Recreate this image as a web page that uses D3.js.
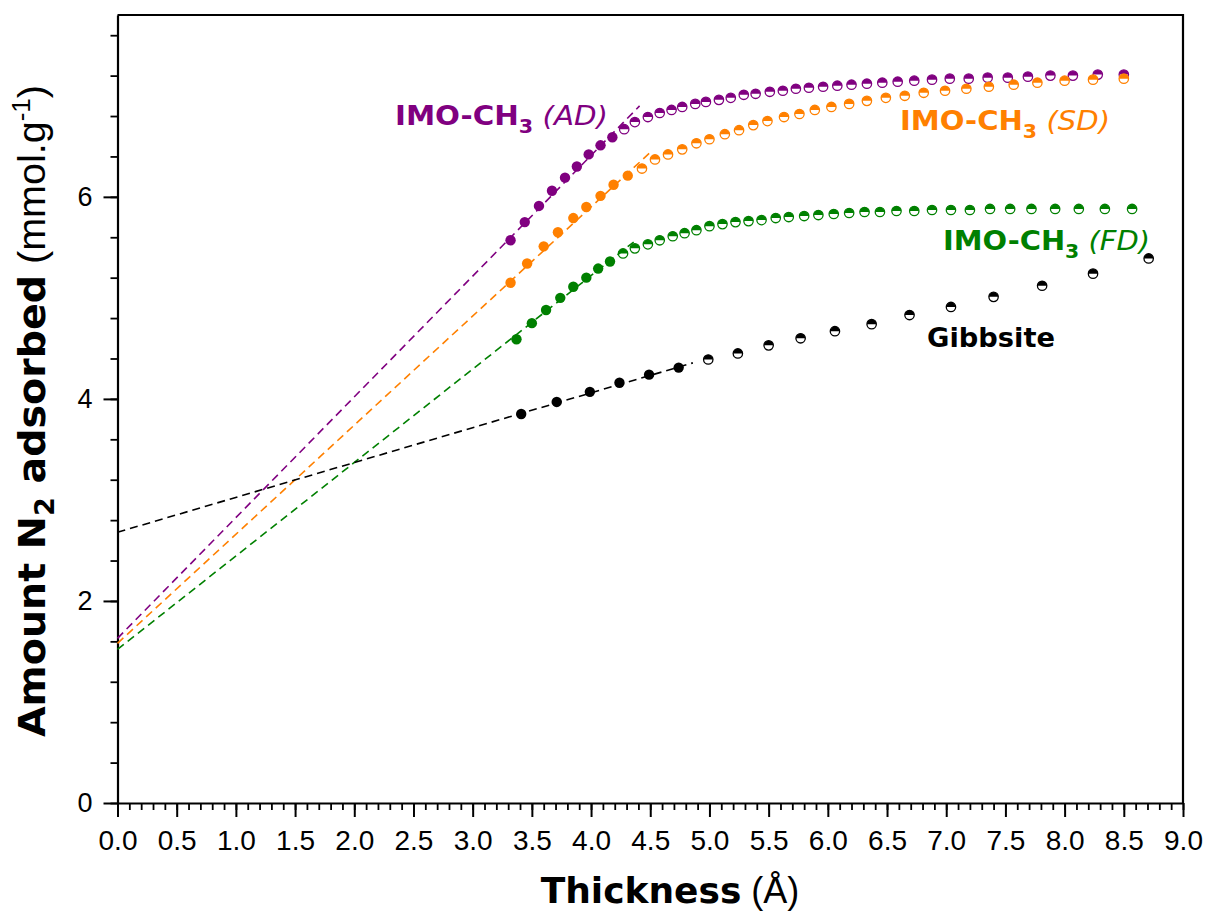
<!DOCTYPE html>
<html>
<head>
<meta charset="utf-8">
<script src="https://cdn.jsdelivr.net/npm/d3@7/dist/d3.min.js"></script>
<style>
  body { margin: 0; background: #fff; }
  svg { display: block; }
</style>
</head>
<body>
<div id="chart"></div>
<script>
// thickness (Å) / amount adsorbed (mmol/g)
// filled = points used for the linear fit, open = half-filled markers
const adFilledX = [3.32, 3.44, 3.56, 3.67, 3.78, 3.88, 3.98, 4.08, 4.18];
const adFilledY = [5.57, 5.75, 5.91, 6.06, 6.19, 6.30, 6.42, 6.51, 6.59];
const adOpenX = [4.28, 4.37, 4.48, 4.58, 4.68, 4.77, 4.88, 4.97, 5.08, 5.18, 5.29, 5.39, 5.51, 5.62, 5.73, 5.84, 5.96,
                 6.08, 6.20, 6.33, 6.46, 6.59, 6.73, 6.88, 7.03, 7.19, 7.35, 7.52, 7.69, 7.88, 8.07, 8.28, 8.50];
const adOpenY = [6.67, 6.74, 6.79, 6.83, 6.86, 6.89, 6.92, 6.94, 6.96, 6.98, 7.01, 7.02, 7.04, 7.05, 7.07, 7.08, 7.09,
                 7.10, 7.11, 7.12, 7.13, 7.14, 7.15, 7.16, 7.17, 7.17, 7.18, 7.18, 7.19, 7.20, 7.20, 7.21, 7.21];

const sdFilledX = [3.32, 3.46, 3.60, 3.72, 3.85, 3.96, 4.08, 4.19, 4.31];
const sdFilledY = [5.15, 5.34, 5.51, 5.65, 5.79, 5.90, 6.01, 6.12, 6.21];
const sdOpenX = [4.43, 4.54, 4.65, 4.77, 4.89, 5.00, 5.13, 5.25, 5.37, 5.49, 5.63, 5.76, 5.89, 6.03, 6.18, 6.33, 6.49,
                 6.65, 6.81, 6.99, 7.17, 7.36, 7.57, 7.77, 8.00, 8.24, 8.50];
const sdOpenY = [6.28, 6.37, 6.42, 6.47, 6.53, 6.57, 6.62, 6.66, 6.71, 6.75, 6.79, 6.82, 6.86, 6.89, 6.92, 6.95, 6.98,
                 7.00, 7.03, 7.05, 7.07, 7.09, 7.11, 7.13, 7.15, 7.16, 7.17];

const fdFilledX = [3.37, 3.50, 3.62, 3.74, 3.85, 3.96, 4.06, 4.16];
const fdFilledY = [4.59, 4.75, 4.88, 5.00, 5.11, 5.20, 5.29, 5.36];
const fdOpenX = [4.27, 4.37, 4.48, 4.58, 4.69, 4.79, 4.89, 5.00, 5.11, 5.22, 5.33, 5.44, 5.56, 5.67, 5.80, 5.92,
                 6.05, 6.18, 6.31, 6.44, 6.58, 6.73, 6.88, 7.04, 7.20, 7.37, 7.54, 7.72, 7.92, 8.12, 8.34, 8.57];
const fdOpenY = [5.44, 5.49, 5.53, 5.57, 5.61, 5.64, 5.67, 5.71, 5.73, 5.75, 5.76, 5.77, 5.79, 5.80, 5.81, 5.82,
                 5.83, 5.84, 5.85, 5.85, 5.86, 5.86, 5.87, 5.87, 5.87, 5.88, 5.88, 5.88, 5.88, 5.88, 5.88, 5.88];

const gibFilledX = [3.41, 3.71, 3.99, 4.24, 4.49, 4.74];
const gibFilledY = [3.85, 3.97, 4.07, 4.16, 4.24, 4.31];
const gibOpenX = [4.99, 5.24, 5.50, 5.77, 6.06, 6.37, 6.69, 7.04, 7.40, 7.81, 8.24, 8.71];
const gibOpenY = [4.39, 4.45, 4.53, 4.60, 4.67, 4.74, 4.83, 4.91, 5.01, 5.12, 5.24, 5.39];

// t-plot fits: intercept, slope, last x of the dashed line
const fitIntercept = [1.63, 1.58, 1.52, 2.68];
const fitSlope = [1.195, 1.08, 0.925, 0.345];
const fitEnd = [4.41, 4.50, 4.36, 4.86];

const seriesNames = ["AD", "SD", "FD", "Gibbsite"];
const colors = ["#800080", "#ff8000", "#008000", "#000000"];

const xTicks = d3.range(0, 19).map(i => i * 0.5);
const xMinor = d3.range(0, 91).map(i => i / 10);
const yTicks = [0, 2, 4, 6];
const yMinor = d3.range(0, 20).map(i => i * 0.4);

const series = [
    {fx: adFilledX, fy: adFilledY, ox: adOpenX, oy: adOpenY},
    {fx: sdFilledX, fy: sdFilledY, ox: sdOpenX, oy: sdOpenY},
    {fx: fdFilledX, fy: fdFilledY, ox: fdOpenX, oy: fdOpenY},
    {fx: gibFilledX, fy: gibFilledY, ox: gibOpenX, oy: gibOpenY}
].map((s, i) => Object.assign(s, {
    name: seriesNames[i], color: colors[i],
    b: fitIntercept[i], m: fitSlope[i], end: fitEnd[i]
}));

const width = 1208, height = 913;
const plotLeft = 117.5, plotRight = 1183, plotTop = 15, plotBottom = 803;

const x = d3.scaleLinear().domain([0, 9]).range([plotLeft, plotRight]);
const y = d3.scaleLinear().domain([0, 7.8]).range([plotBottom, plotTop]);

const svg = d3.select("#chart").append("svg")
    .attr("width", width)
    .attr("height", height);

const tickFont = "'Liberation Sans', Arial, sans-serif";
const boldFont = "'DejaVu Sans', Verdana, sans-serif";

// minor ticks first, majors on top
svg.append("g")
    .attr("transform", `translate(0,${plotBottom})`)
    .call(d3.axisBottom(x).tickValues(xMinor).tickSize(7).tickFormat(""))
    .call(g => g.select(".domain").remove())
    .call(g => g.selectAll("line").attr("stroke-width", 1.8));

const xAxis = svg.append("g")
    .attr("transform", `translate(0,${plotBottom})`)
    .call(d3.axisBottom(x).tickValues(xTicks).tickSize(14).tickSizeOuter(0).tickPadding(13).tickFormat(d3.format(".1f")));
xAxis.select(".domain").attr("stroke-width", 2.2);
xAxis.selectAll("line").attr("stroke-width", 2);
xAxis.selectAll("text")
    .attr("font-family", tickFont)
    .attr("font-size", 28)
    .attr("fill", "#000");

svg.append("g")
    .attr("transform", `translate(${plotLeft},0)`)
    .call(d3.axisLeft(y).tickValues(yMinor).tickSize(7).tickFormat(""))
    .call(g => g.select(".domain").remove())
    .call(g => g.selectAll("line").attr("stroke-width", 1.8));

const yAxis = svg.append("g")
    .attr("transform", `translate(${plotLeft},0)`)
    .call(d3.axisLeft(y).tickValues(yTicks).tickSize(14).tickSizeOuter(0).tickPadding(11).tickFormat(d3.format("d")));
yAxis.select(".domain").attr("stroke-width", 2.2);
yAxis.selectAll("line").attr("stroke-width", 2);
yAxis.selectAll("text")
    .attr("font-family", tickFont)
    .attr("font-size", 27)
    .attr("fill", "#000");

// top and right frame
svg.append("path")
    .attr("d", `M${plotLeft},${plotTop}H${plotRight}V${plotBottom}`)
    .attr("fill", "none")
    .attr("stroke", "#000")
    .attr("stroke-width", 2.2);

// markers
const halfTop = d3.arc().innerRadius(0).outerRadius(4.7)
    .startAngle(-Math.PI / 2).endAngle(Math.PI / 2);

series.forEach(s => {
    const g = svg.append("g");

    g.selectAll("circle.filled")
        .data(d3.zip(s.fx, s.fy))
        .enter().append("circle")
        .attr("class", "filled")
        .attr("cx", d => x(d[0]))
        .attr("cy", d => y(d[1]))
        .attr("r", 5.2)
        .attr("fill", s.color);

    const open = g.selectAll("g.open")
        .data(d3.zip(s.ox, s.oy))
        .enter().append("g")
        .attr("class", "open")
        .attr("transform", d => `translate(${x(d[0])},${y(d[1])})`);
    open.append("circle")
        .attr("r", 4.7)
        .attr("fill", "#fff")
        .attr("stroke", s.color)
        .attr("stroke-width", 1.3);
    open.append("path")
        .attr("d", halfTop)
        .attr("fill", s.color);
});

// dashed fit lines
const line = d3.line().x(d => x(d[0])).y(d => y(d[1]));
series.forEach(s => {
    svg.append("path")
        .datum([[0, s.b], [s.end, s.b + s.m * s.end]])
        .attr("d", line)
        .attr("fill", "none")
        .attr("stroke", s.color)
        .attr("stroke-width", 1.6)
        .attr("stroke-dasharray", "8,5");
});

// series labels (stretched to the widths they have in the figure)
function label(px, py, color, tag, w) {
    const t = svg.append("text")
        .attr("x", px)
        .attr("y", py)
        .attr("fill", color)
        .attr("font-family", boldFont)
        .attr("font-size", 27)
        .attr("textLength", w)
        .attr("lengthAdjust", "spacingAndGlyphs");
    t.append("tspan").attr("font-weight", "bold").text("IMO-CH");
    t.append("tspan").attr("font-weight", "bold").attr("font-size", 19).attr("dy", 8).text("3");
    t.append("tspan").attr("font-style", "italic").attr("dy", -8).text(" (" + tag + ")");
}
label(395, 125, colors[0], seriesNames[0], 213);
label(900, 130, colors[1], seriesNames[1], 210);
label(943, 250, colors[2], seriesNames[2], 207);

svg.append("text")
    .attr("x", 927)
    .attr("y", 347)
    .attr("font-family", boldFont)
    .attr("font-weight", "bold")
    .attr("font-size", 27)
    .attr("textLength", 128)
    .attr("lengthAdjust", "spacingAndGlyphs")
    .text(seriesNames[3]);

// axis titles
const xt = svg.append("text")
    .attr("x", 670)
    .attr("y", 903)
    .attr("text-anchor", "middle")
    .attr("font-size", 36);
xt.append("tspan").attr("font-family", boldFont).attr("font-weight", "bold").text("Thickness");
xt.append("tspan").attr("font-family", tickFont).text(" (Å)");

const yt = svg.append("text")
    .attr("transform", "translate(45,411) rotate(-90)")
    .attr("text-anchor", "middle")
    .attr("font-size", 38)
    .attr("textLength", 652)
    .attr("lengthAdjust", "spacingAndGlyphs");
yt.append("tspan").attr("font-family", boldFont).attr("font-weight", "bold").text("Amount N");
yt.append("tspan").attr("font-family", boldFont).attr("font-weight", "bold").attr("font-size", 26).attr("dy", 9).text("2");
yt.append("tspan").attr("font-family", boldFont).attr("font-weight", "bold").attr("dy", -9).text(" adsorbed");
yt.append("tspan").attr("font-family", tickFont).text(" (mmol.g");
yt.append("tspan").attr("font-family", tickFont).attr("font-size", 25).attr("dy", -15).text("-1");
yt.append("tspan").attr("font-family", tickFont).attr("dy", 15).text(")");
</script>
</body>
</html>
